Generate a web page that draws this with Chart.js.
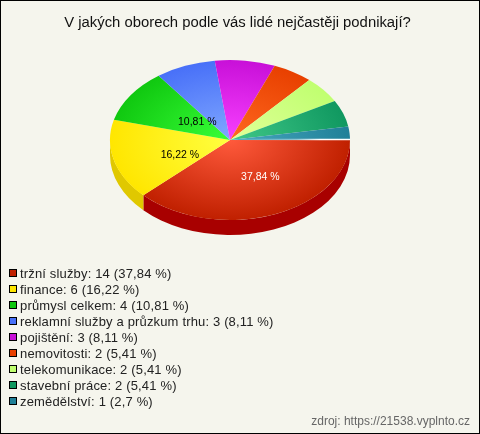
<!DOCTYPE html>
<html><head><meta charset="utf-8">
<style>
html,body{margin:0;padding:0;background:#f5f5ed;}
#wrap{position:relative;width:480px;height:434px;overflow:hidden;background:#f5f5ed;}
#wrap:after{content:"";position:absolute;inset:0;border:1px solid #000;pointer-events:none;}
canvas{position:absolute;left:0;top:0;}
#legend{position:absolute;left:9px;top:266px;font:13px/16px "Liberation Sans",Arial,sans-serif;color:#222;letter-spacing:.16px;}
#legend div{height:16px;white-space:nowrap;position:relative;padding-left:11px;}
#legend i{position:absolute;left:0;top:3px;width:6px;height:6px;border:1px solid #000;}
#source{position:absolute;right:10px;top:414px;font:12px "Liberation Sans",Arial,sans-serif;color:#666;}
</style>
<script src="https://cdn.jsdelivr.net/npm/chart.js@4"></script>
</head><body>
<div id="wrap">
<canvas id="c" width="480" height="434"></canvas>
<div id="legend"></div>
<div id="source">zdroj: https://21538.vyplnto.cz</div>
</div>
<script>
const titleText = "V jakých oborech podle vás lidé nejčastěji podnikají?";
const categories = ["tržní služby","finance","průmysl celkem","reklamní služby a průzkum trhu","pojištění","nemovitosti","telekomunikace","stavební práce","zemědělství"];
const counts = [14,6,4,3,3,2,2,2,1];
const percents = ["37,84","16,22","10,81","8,11","8,11","5,41","5,41","5,41","2,7"];
const outerColors = ["#c02000","#ffe600","#10c810","#4870f8","#c810d8","#e84000","#c0ff70","#109860","#208098"];
const innerColors = ["#ff5a3c","#ffff40","#38ff38","#80a8ff","#f840ff","#ff6820","#e0ff98","#40c888","#48a8c0"];
const sideColors  = ["#a80000","#e0c800","#08a008","#3858c8","#a008b0","#b83000","#98cc58","#087848","#186878"];
const labelNudge = [[8,0],[8,5],[17,5]];
const yScale = 2/3, depth = 15;

function center(chart){const a=chart.getDatasetMeta(0).data[0];return {x:a.x,y:a.y,r:a.outerRadius};}

const pie3d = {
  id:"pie3d",
  beforeDatasetsDraw(chart){
    const ctx=chart.ctx, arcs=chart.getDatasetMeta(0).data, c=center(chart);
    ctx.save();
    arcs.forEach((a,i)=>{
      const s=Math.max(a.startAngle,0), e=Math.min(a.endAngle,Math.PI);
      if(e<=s) return;
      ctx.beginPath();
      ctx.ellipse(c.x,c.y,c.r,c.r*yScale,0,s,e,false);
      ctx.ellipse(c.x,c.y+depth,c.r,c.r*yScale,0,e,s,true);
      ctx.closePath();
      ctx.fillStyle=sideColors[i];
      ctx.fill();
    });
    ctx.restore();
    ctx.save();
    ctx.translate(0,c.y);ctx.scale(1,yScale);ctx.translate(0,-c.y);
  },
  afterDatasetsDraw(chart){
    const ctx=chart.ctx, arcs=chart.getDatasetMeta(0).data, c=center(chart);
    ctx.restore();
    ctx.save();
    const lg=ctx.createLinearGradient(c.x,0,c.x+c.r,0);
    lg.addColorStop(0,"rgba(255,255,255,0)");
    lg.addColorStop(0.55,"rgba(255,255,255,0.45)");
    lg.addColorStop(0.75,"rgba(255,255,255,1)");
    lg.addColorStop(1,"rgba(255,255,255,1)");
    ctx.strokeStyle=lg;ctx.lineWidth=1.5;
    ctx.beginPath();ctx.moveTo(c.x,c.y-0.4);ctx.lineTo(c.x+c.r,c.y-0.4);ctx.stroke();
    ctx.font='10.5px "Liberation Sans",Arial,sans-serif';
    ctx.textAlign="center";ctx.textBaseline="middle";
    labelNudge.forEach((n,i)=>{
      const p=arcs[i].getCenterPoint();
      ctx.fillStyle=i===0?"#fff":"#000";
      ctx.fillText(percents[i]+" %",p.x+n[0],c.y+(p.y-c.y)*yScale+n[1]);
    });
    ctx.restore();
  }
};

new Chart(document.getElementById("c"),{
  type:"pie",
  data:{labels:categories,datasets:[{
    data:counts,
    borderWidth:0,
    backgroundColor(ctx){
      const ch=ctx.chart, a=ch.chartArea; if(!a) return outerColors[ctx.dataIndex];
      const x=(a.left+a.right)/2,y=(a.top+a.bottom)/2,r=(a.right-a.left)/2;
      const g=ch.ctx.createRadialGradient(x,y,0,x,y,r);
      g.addColorStop(0,innerColors[ctx.dataIndex]);
      g.addColorStop(1,outerColors[ctx.dataIndex]);
      return g;
    }
  }]},
  options:{
    responsive:false,animation:false,rotation:90,
    layout:{padding:{left:110,right:130,top:20,bottom:174}},
    plugins:{legend:{display:false},tooltip:{enabled:false},title:{display:false}}
  },
  plugins:[pie3d,{id:"titleText",afterDraw(chart){
    const ctx=chart.ctx;ctx.save();ctx.font='14.85px "Liberation Sans",Arial,sans-serif';
    ctx.fillStyle="#111";ctx.textAlign="center";ctx.textBaseline="middle";
    ctx.fillText(titleText,237.5,23);ctx.restore();
  }}]
});

const legend=document.getElementById("legend");
categories.forEach((n,i)=>{
  const d=document.createElement("div");
  const s=document.createElement("i");s.style.background=outerColors[i];
  d.appendChild(s);
  d.appendChild(document.createTextNode(n+": "+counts[i]+" ("+percents[i]+" %)"));
  legend.appendChild(d);
});
</script>
</body></html>
